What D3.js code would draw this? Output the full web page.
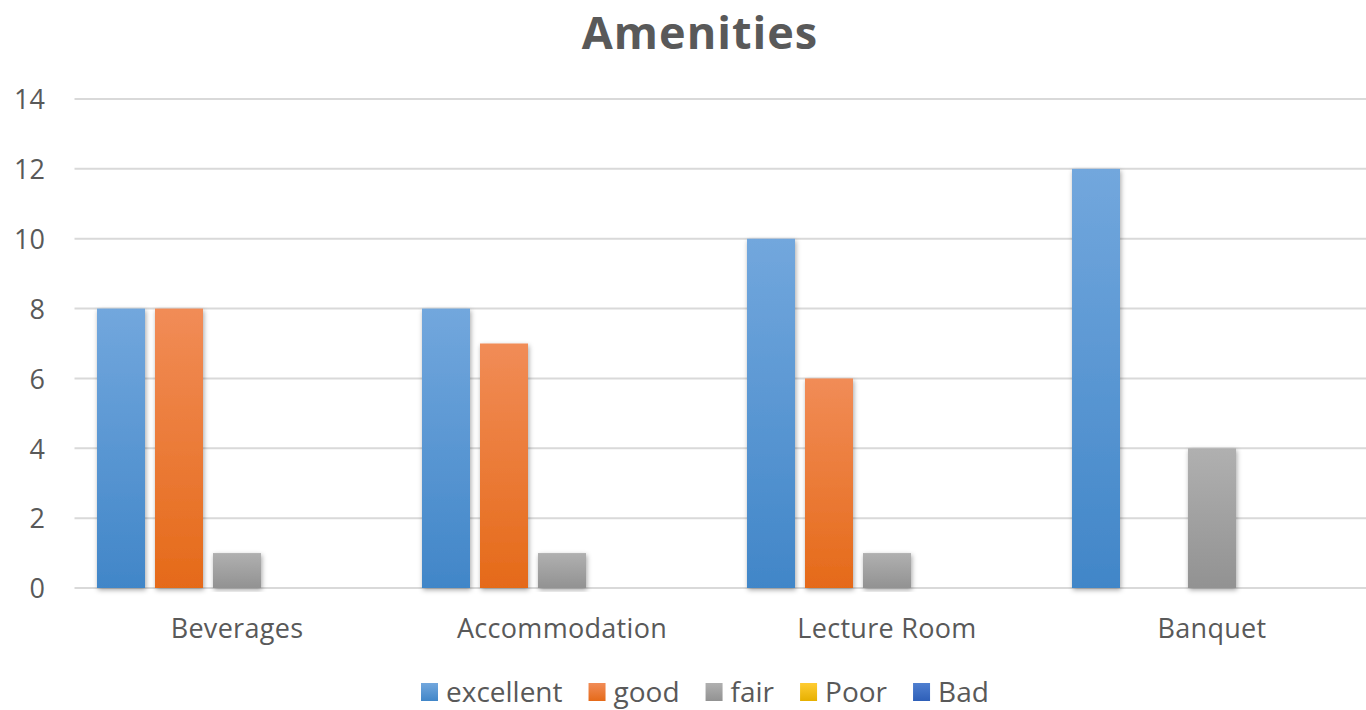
<!DOCTYPE html>
<html><head><meta charset="utf-8">
<script src="https://cdn.jsdelivr.net/npm/d3@7/dist/d3.min.js"></script>
<style>body{margin:0;background:#fff;}svg{display:block;}</style>
</head><body>
<svg id="chart" width="1366" height="710"></svg>
<script>
const title = "Amenities";
const categories = ["Beverages", "Accommodation", "Lecture Room", "Banquet"];
const seriesNames = ["excellent", "good", "fair", "Poor", "Bad"];
const excellent = [8, 8, 10, 12];
const good = [8, 7, 6, 0];
const fair = [1, 1, 1, 4];
const poor = [0, 0, 0, 0];
const bad = [0, 0, 0, 0];
const yTicks = [0, 2, 4, 6, 8, 10, 12, 14];
const seriesValues = [excellent, good, fair, poor, bad];
const colors = [
  ["#72a7dd", "#4186c8"],
  ["#f18c57", "#e56a19"],
  ["#b0b0b0", "#929292"],
  ["#ffcc33", "#e6b000"],
  ["#4f7fd0", "#2e5fb8"]
];

(function(){
const svg = d3.select("#chart");
const font = "'Open Sans', sans-serif";
const pLeft = 74.5, pRight = 1374.5, pTop = 99, pBottom = 588;

const defs = svg.append("defs");
colors.forEach((c, i) => {
  const g = defs.append("linearGradient").attr("id", "g" + i)
    .attr("x1", 0).attr("y1", 0).attr("x2", 0).attr("y2", 1);
  g.append("stop").attr("offset", "0%").attr("stop-color", c[0]);
  g.append("stop").attr("offset", "100%").attr("stop-color", c[1]);
});
const f = defs.append("filter").attr("id", "sh").attr("x", "-30%").attr("y", "-10%").attr("width", "160%").attr("height", "120%");
f.append("feDropShadow").attr("dx", 1).attr("dy", 2).attr("stdDeviation", 2.5).attr("flood-color", "#000").attr("flood-opacity", 0.35);

const y = d3.scaleLinear().domain([0, 14]).range([pBottom, pTop]);
const x0 = d3.scaleBand().domain(categories).range([pLeft, pRight]).padding(0);
const x1 = d3.scaleBand().domain(seriesNames).range([22.5, 302.5]).paddingInner(10/58).paddingOuter(0);

// grid
svg.append("g").selectAll("line").data(yTicks).join("line")
  .attr("x1", pLeft).attr("x2", 1366)
  .attr("y1", d => y(d)).attr("y2", d => y(d))
  .attr("stroke", "#d9d9d9").attr("stroke-width", 2);

// y axis labels
const yAxis = d3.axisLeft(y).tickValues(yTicks).tickSize(0).tickPadding(0);
const ya = svg.append("g").attr("transform", "translate(45,0)").call(yAxis);
ya.select(".domain").remove();
ya.selectAll("text").attr("font-family", font).attr("font-size", 27).attr("fill", "#595959").attr("dy", "0.36em");

// bars
const groups = svg.append("g").selectAll("g").data(categories).join("g")
  .attr("transform", d => `translate(${x0(d)},0)`);
groups.selectAll("rect").data((c, ci) => seriesNames.map((s, si) => ({s, si, v: seriesValues[si][ci]})).filter(d => d.v > 0))
  .join("rect")
  .attr("x", d => x1(d.s)).attr("width", x1.bandwidth())
  .attr("y", d => y(d.v)).attr("height", d => y(0) - y(d.v))
  .attr("fill", d => `url(#g${d.si})`)
  .attr("filter", "url(#sh)");

// x axis labels
const xAxis = d3.axisBottom(x0).tickSize(0).tickPadding(0);
const xa = svg.append("g").attr("transform", `translate(0,${pBottom})`).call(xAxis);
xa.select(".domain").remove();
xa.selectAll("text").attr("font-family", font).attr("font-size", 27).attr("letter-spacing", 0.3)
  .attr("fill", "#595959").attr("dy", 0).attr("y", 50);

// title
svg.append("text").attr("x", 700).attr("y", 48.5).attr("text-anchor", "middle")
  .attr("font-family", font).attr("font-weight", "bold").attr("font-size", 45).attr("letter-spacing", 1)
  .attr("fill", "#595959").text(title);

// legend: laid out sequentially
let lx = 421;
const lg = svg.append("g");
seriesNames.forEach((name, i) => {
  const g = lg.append("g").attr("transform", `translate(${lx},683)`);
  g.append("rect").attr("width", 17).attr("height", 18).attr("fill", `url(#g${i})`);
  const t = g.append("text").attr("x", 25).attr("y", 19).attr("font-family", font).attr("font-size", 28)
    .attr("fill", "#595959").text(name);
  lx += 25 + t.node().getComputedTextLength() + 26;
});
})();
</script>
</body></html>
